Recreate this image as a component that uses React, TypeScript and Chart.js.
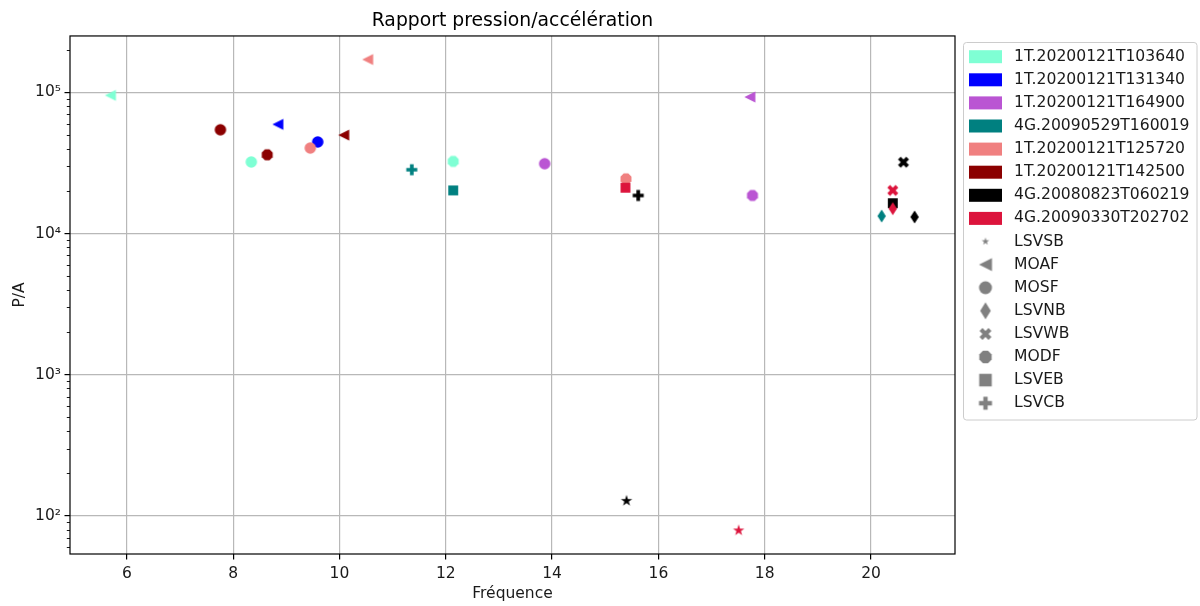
import React, { useEffect, useRef } from 'react';
import Chart from 'chart.js/auto';

// ---------- data ----------
const chartTitle = 'Rapport pression/accélération';
const xTitle = 'Fréquence';
const yTitle = 'P/A';

const eventNames = [
  '1T.20200121T103640',
  '1T.20200121T131340',
  '1T.20200121T164900',
  '4G.20090529T160019',
  '1T.20200121T125720',
  '1T.20200121T142500',
  '4G.20080823T060219',
  '4G.20090330T202702',
];
const eventColors = ['#7fffd4', '#0000ff', '#ba55d3', '#008080', '#f08080', '#8b0000', '#000000', '#dc143c'];

const stationNames = ['LSVSB', 'MOAF', 'MOSF', 'LSVNB', 'LSVWB', 'MODF', 'LSVEB', 'LSVCB'];
const stationShapes = ['star', 'triLeft', 'circle', 'thinDiamond', 'xFilled', 'octagon', 'square', 'plusFilled'];

const ev1Stations = ['MOAF', 'MOSF', 'MODF'];
const ev1Freq = [5.69, 8.34, 12.14];
const ev1PA = [95200, 32100, 32400];

const ev2Stations = ['MOAF', 'MOSF'];
const ev2Freq = [8.84, 9.59];
const ev2PA = [59300, 44500];

const ev3Stations = ['MOAF', 'MOSF', 'MODF'];
const ev3Freq = [17.72, 13.86, 17.77];
const ev3PA = [92600, 31200, 18600];

const ev4Stations = ['LSVCB', 'LSVEB', 'LSVNB'];
const ev4Freq = [11.36, 12.14, 20.2];
const ev4PA = [28300, 20200, 13300];

const ev5Stations = ['MOAF', 'MOSF', 'MODF'];
const ev5Freq = [10.53, 9.45, 15.39];
const ev5PA = [170600, 40300, 24400];

const ev6Stations = ['MOAF', 'MOSF', 'MODF'];
const ev6Freq = [10.08, 7.76, 8.64];
const ev6PA = [49800, 54300, 36100];

const ev7Stations = ['LSVSB', 'LSVCB', 'LSVEB', 'LSVWB', 'LSVNB'];
const ev7Freq = [15.4, 15.62, 20.41, 20.61, 20.82];
const ev7PA = [128, 18600, 16400, 32000, 13100];

const ev8Stations = ['LSVEB', 'LSVSB', 'LSVNB', 'LSVWB'];
const ev8Freq = [15.38, 17.51, 20.41, 20.41];
const ev8PA = [21100, 79, 15000, 20200];

const eventStations = [ev1Stations, ev2Stations, ev3Stations, ev4Stations, ev5Stations, ev6Stations, ev7Stations, ev8Stations];
const eventFreq = [ev1Freq, ev2Freq, ev3Freq, ev4Freq, ev5Freq, ev6Freq, ev7Freq, ev8Freq];
const eventPA = [ev1PA, ev2PA, ev3PA, ev4PA, ev5PA, ev6PA, ev7PA, ev8PA];

const xTickValues = [6, 8, 10, 12, 14, 16, 18, 20];
const yMajorValues = [100, 1000, 10000, 100000];
const yMajorLabels = ['10²', '10³', '10⁴', '10⁵'];

const xMin = 4.93;
const xMax = 21.58;
const yMin = 53.8;
const yMax = 250600;

// ---------- styling ----------
const FONT = '"DejaVu Sans", "Liberation Sans", sans-serif';
const TEXT = '#1a1a1a';
const GRID = '#b8b8b8';
const LEGEND_GRAY = '#808080';

const plotSizes: Record<string, number> = {
  star: 12, triLeft: 11, circle: 11.5, thinDiamond: 11, xFilled: 11, octagon: 11.5, square: 11, plusFilled: 11,
};
const legendSizes: Record<string, number> = {
  star: 8, triLeft: 13, circle: 13, thinDiamond: 14, xFilled: 12, octagon: 13, square: 14, plusFilled: 13,
};

function shapePath(ctx: CanvasRenderingContext2D, shape: string, cx: number, cy: number, d: number) {
  const poly = (pts: number[][]) => {
    ctx.beginPath();
    pts.forEach((p, i) => (i === 0 ? ctx.moveTo(cx + p[0], cy + p[1]) : ctx.lineTo(cx + p[0], cy + p[1])));
    ctx.closePath();
  };
  const r = d / 2;
  switch (shape) {
    case 'circle':
      ctx.beginPath();
      ctx.arc(cx, cy, r, 0, Math.PI * 2);
      break;
    case 'octagon': {
      const pts: number[][] = [];
      const rr = r * 1.03;
      for (let k = 0; k < 8; k++) {
        const a = (Math.PI / 8) + (k * Math.PI) / 4;
        pts.push([rr * Math.cos(a), rr * Math.sin(a)]);
      }
      poly(pts);
      break;
    }
    case 'triLeft':
      poly([[-r, 0], [r, -r], [r, r]]);
      break;
    case 'square': {
      const s = r * 0.9;
      poly([[-s, -s], [s, -s], [s, s], [-s, s]]);
      break;
    }
    case 'thinDiamond': {
      const h = d * 0.6;
      const w = d * 0.38;
      poly([[0, -h], [w, 0], [0, h], [-w, 0]]);
      break;
    }
    case 'xFilled': {
      const base = [[-1, -2], [0, -1], [1, -2], [2, -1], [1, 0], [2, 1], [1, 2], [0, 1], [-1, 2], [-2, 1], [-1, 0], [-2, -1]];
      poly(base.map((p) => [(p[0] / 4) * d, (p[1] / 4) * d]));
      break;
    }
    case 'plusFilled': {
      const base = [[-1, -3], [1, -3], [1, -1], [3, -1], [3, 1], [1, 1], [1, 3], [-1, 3], [-1, 1], [-3, 1], [-3, -1], [-1, -1]];
      poly(base.map((p) => [(p[0] / 6) * d, (p[1] / 6) * d]));
      break;
    }
    case 'star': {
      const pts: number[][] = [];
      for (let k = 0; k < 10; k++) {
        const rad = k % 2 === 0 ? r : r * 0.382;
        const a = -Math.PI / 2 + (k * Math.PI) / 5;
        pts.push([rad * Math.cos(a), rad * Math.sin(a)]);
      }
      poly(pts);
      break;
    }
    default:
      ctx.beginPath();
      ctx.arc(cx, cy, r, 0, Math.PI * 2);
  }
}

const markerCache: Record<string, HTMLCanvasElement> = {};
function markerImage(shape: string, color: string, d: number): HTMLCanvasElement {
  const key = `${shape}|${color}|${d}`;
  if (markerCache[key]) return markerCache[key];
  const c = document.createElement('canvas');
  c.width = 24;
  c.height = 24;
  const g = c.getContext('2d')!;
  shapePath(g, shape, 12, 12, d);
  g.fillStyle = color;
  g.fill();
  markerCache[key] = c;
  return c;
}

function shapeOf(station: string) {
  return stationShapes[stationNames.indexOf(station)];
}

// ---------- plugins ----------
const spinePlugin = {
  id: 'mplSpines',
  afterDatasetsDraw(chart: any) {
    const { ctx, chartArea } = chart;
    const yScale = chart.scales.y;
    ctx.save();
    ctx.strokeStyle = '#000';
    ctx.lineWidth = 0.9;
    for (let e = 1; e <= 5; e++) {
      for (let k = 2; k <= 9; k++) {
        const v = k * Math.pow(10, e);
        if (v < yMin || v > yMax) continue;
        const py = Math.round(yScale.getPixelForValue(v)) + 0.5;
        ctx.beginPath();
        ctx.moveTo(chartArea.left - 3.2, py);
        ctx.lineTo(chartArea.left, py);
        ctx.stroke();
      }
    }
    ctx.strokeStyle = '#000';
    ctx.lineWidth = 1.2;
    ctx.strokeRect(chartArea.left, chartArea.top, chartArea.right - chartArea.left, chartArea.bottom - chartArea.top);
    ctx.restore();
  },
};

const legendPlugin = {
  id: 'mplLegend',
  afterDraw(chart: any) {
    const ctx: CanvasRenderingContext2D = chart.ctx;
    ctx.save();
    const fx = 963.5, fy = 42.5, fw = 233.5, fh = 377.5;
    ctx.beginPath();
    (ctx as any).roundRect(fx, fy, fw, fh, 3);
    ctx.fillStyle = 'rgba(255,255,255,0.85)';
    ctx.fill();
    ctx.strokeStyle = '#cccccc';
    ctx.lineWidth = 1;
    ctx.stroke();

    const rowY0 = 56.7;
    const step = 23.1;
    const textX = 1014;
    ctx.font = `15.6px ${FONT}`;
    ctx.textBaseline = 'middle';
    ctx.textAlign = 'left';
    eventNames.forEach((name, i) => {
      const y = rowY0 + i * step;
      ctx.fillStyle = eventColors[i];
      ctx.fillRect(969, y - 6.5, 33, 13);
      ctx.fillStyle = TEXT;
      ctx.fillText(name, textX, y);
    });
    stationNames.forEach((name, j) => {
      const y = rowY0 + (eventNames.length + j) * step;
      const img = markerImage(stationShapes[j], LEGEND_GRAY, legendSizes[stationShapes[j]]);
      ctx.drawImage(img, 985.5 - 12, y - 12);
      ctx.fillStyle = TEXT;
      ctx.fillText(name, textX, y);
    });
    ctx.restore();
  },
};

export default function App() {
  const canvasRef = useRef<HTMLCanvasElement | null>(null);

  useEffect(() => {
    if (!canvasRef.current) return;
    Chart.defaults.font.family = FONT;

    const datasets = eventNames.map((name, i) => {
      const imgs = eventStations[i].map((s) => markerImage(shapeOf(s), eventColors[i], plotSizes[shapeOf(s)]));
      return {
        label: name,
        data: eventFreq[i].map((f, j) => ({ x: f, y: eventPA[i][j] })),
        pointStyle: (c: any) => imgs[c.dataIndex],
        pointRadius: 5,
        backgroundColor: eventColors[i],
        borderColor: eventColors[i],
        showLine: false,
        order: eventNames.length - i,
      };
    });

    const chart = new Chart(canvasRef.current, {
      type: 'scatter',
      data: { datasets },
      plugins: [spinePlugin, legendPlugin],
      options: {
        animation: false,
        responsive: false,
        devicePixelRatio: 1,
        events: [],
        layout: { padding: { left: 0, right: 245, top: 0, bottom: 0 } },
        plugins: {
          legend: { display: false },
          tooltip: { enabled: false },
          title: {
            display: true,
            text: chartTitle,
            fullSize: false,
            color: '#000',
            font: { size: 18.8, weight: 'normal', family: FONT },
            padding: { top: 10, bottom: 3.4 },
          },
        },
        scales: {
          x: {
            type: 'linear',
            min: xMin,
            max: xMax,
            afterBuildTicks: (s: any) => {
              s.ticks = xTickValues.map((v) => ({ value: v }));
            },
            afterFit: (s: any) => {
              s.height = 52;
            },
            ticks: {
              autoSkip: false,
              maxRotation: 0,
              color: TEXT,
              padding: 5,
              font: { size: 15.5, family: FONT },
              callback: (v: any) => String(v),
            },
            grid: {
              color: GRID,
              lineWidth: 1.2,
              drawTicks: true,
              tickLength: 5.5,
              tickColor: '#000',
              tickWidth: 1.2,
            },
            border: { display: false },
            title: {
              display: true,
              text: xTitle,
              color: TEXT,
              font: { size: 15.5, family: FONT },
              padding: { top: 0, bottom: 2.5 },
            },
          },
          y: {
            type: 'logarithmic',
            min: yMin,
            max: yMax,
            afterBuildTicks: (s: any) => {
              s.ticks = yMajorValues.map((v) => ({ value: v, major: true }));
            },
            afterFit: (s: any) => {
              s.width = 70;
            },
            ticks: {
              autoSkip: false,
              color: TEXT,
              padding: 3.5,
              font: { size: 15.5, family: FONT },
              callback: (v: any) => {
                const idx = yMajorValues.indexOf(Number(v));
                return idx >= 0 ? yMajorLabels[idx] : '';
              },
            },
            grid: {
              color: GRID,
              lineWidth: 1.2,
              drawTicks: true,
              tickLength: 5.5,
              tickColor: '#000',
              tickWidth: 1.2,
            },
            border: { display: false },
            title: {
              display: true,
              text: yTitle,
              color: TEXT,
              font: { size: 15.5, family: FONT },
              padding: { top: 10.5, bottom: 0 },
            },
          },
        },
      } as any,
    });

    return () => chart.destroy();
  }, []);

  return (
    <div style={{ position: 'absolute', left: 0, top: 0, width: 1200, height: 606, background: '#fff' }}>
      <canvas ref={canvasRef} width={1200} height={606} style={{ width: 1200, height: 606, display: 'block' }} />
    </div>
  );
}
